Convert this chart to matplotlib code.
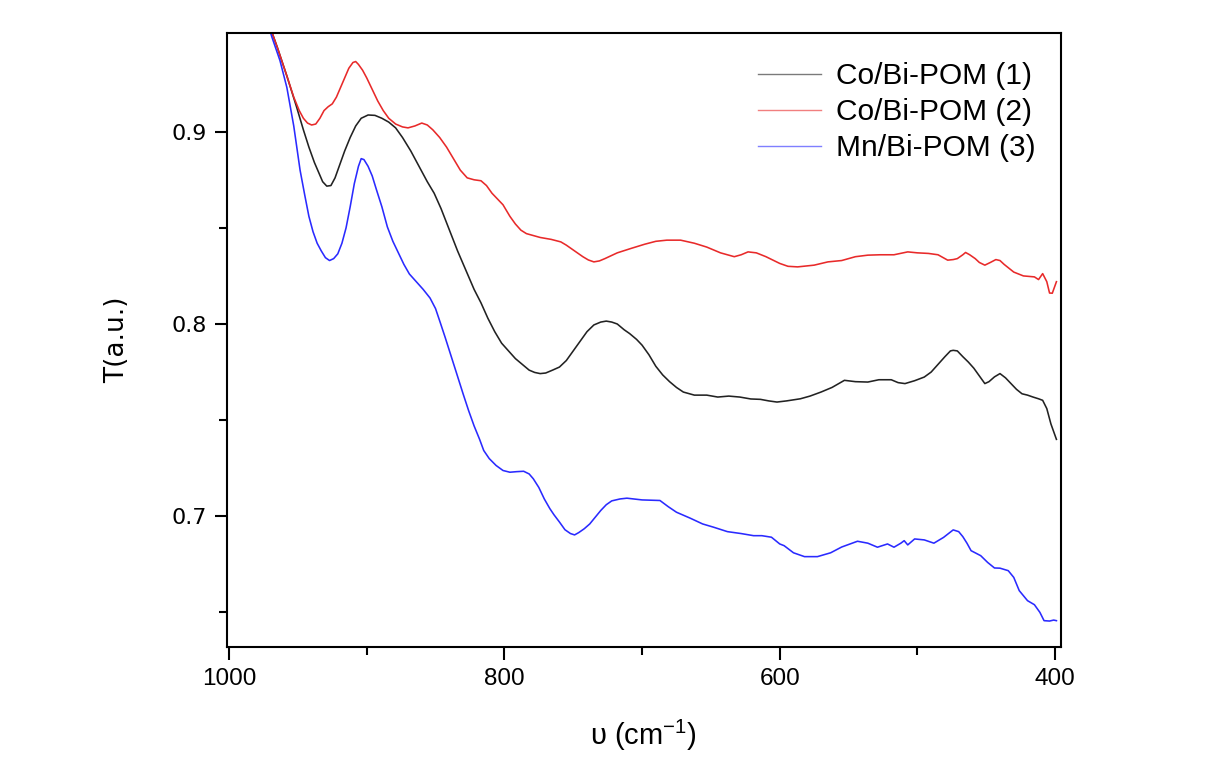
import matplotlib
matplotlib.use("Agg")
import matplotlib.pyplot as plt

plt.rcParams['mathtext.default'] = 'regular'

wn_black = [980, 972, 965, 958, 951, 946, 942, 938, 935, 932, 929, 926, 923, 920, 916, 912, 908, 904, 899, 894,
            889, 884, 879, 874, 868, 862, 856, 851, 846, 840, 834, 828, 822, 817, 812, 807, 802, 797, 792, 787,
            782, 778, 774, 770, 765, 760, 755, 750, 745, 740, 735, 730, 726, 722, 718, 713, 709, 704, 700, 695,
            690, 685, 680, 675, 670, 662, 653, 645, 637, 629, 621, 614, 608, 602, 595, 585, 578, 570, 562, 553,
            545, 536, 528, 519, 514, 509, 502, 495, 490, 485, 480, 476, 474, 471, 467, 463, 459, 455, 451, 448,
            444, 440, 436, 432, 428, 424, 420, 416, 412, 409, 406, 403, 399]
t_black = [0.975, 0.958, 0.944, 0.929, 0.913, 0.901, 0.892, 0.884, 0.879, 0.874, 0.8717, 0.872, 0.876, 0.882, 0.890, 0.897, 0.903, 0.907, 0.9087, 0.9085,
           0.907, 0.905, 0.902, 0.897, 0.890, 0.882, 0.874, 0.868, 0.860, 0.849, 0.838, 0.828, 0.818, 0.811, 0.803, 0.796, 0.790, 0.786, 0.782, 0.779,
           0.776, 0.7748, 0.7742, 0.7745, 0.776, 0.7776, 0.781, 0.786, 0.791, 0.796, 0.7995, 0.801, 0.8015, 0.801, 0.800, 0.797, 0.795, 0.792, 0.789, 0.784,
           0.778, 0.7735, 0.770, 0.767, 0.7646, 0.763, 0.763, 0.762, 0.7625, 0.762, 0.761, 0.7608, 0.760, 0.7594, 0.760, 0.7611, 0.7625, 0.7646, 0.767, 0.7707,
           0.770, 0.7698, 0.771, 0.771, 0.7695, 0.769, 0.7705, 0.7724, 0.775, 0.779, 0.783, 0.786, 0.7863, 0.786, 0.783, 0.7802, 0.777, 0.773, 0.769, 0.770,
           0.7725, 0.7742, 0.772, 0.769, 0.766, 0.7637, 0.763, 0.762, 0.7611, 0.7603, 0.756, 0.748, 0.740]

wn_red = [980, 972, 965, 958, 953, 949, 946, 943, 940, 937, 934, 931, 928, 925, 922, 919, 916, 913, 910, 908,
          906, 903, 900, 896, 892, 888, 884, 879, 874, 870, 865, 860, 856, 852, 847, 842, 837, 832, 827, 822,
          817, 813, 809, 805, 801, 796, 792, 788, 784, 779, 774, 766, 759, 755, 751, 747, 743, 739, 735, 731,
          727, 718, 708, 698, 690, 682, 672, 662, 653, 643, 633, 628, 623, 617, 610, 600, 594, 587, 575, 565,
          555, 545, 536, 527, 517, 507, 500, 492, 485, 478, 474, 471, 467, 465, 462, 458, 455, 451, 447, 443,
          440, 437, 430, 423, 415, 412, 409, 406, 404, 402, 399]
t_red = [0.975, 0.958, 0.944, 0.929, 0.918, 0.911, 0.907, 0.9045, 0.9035, 0.904, 0.907, 0.911, 0.913, 0.9145, 0.918, 0.923, 0.928, 0.933, 0.936, 0.9365,
         0.935, 0.932, 0.928, 0.922, 0.916, 0.911, 0.907, 0.904, 0.9025, 0.902, 0.903, 0.9045, 0.9035, 0.901, 0.897, 0.892, 0.886, 0.880, 0.876, 0.875,
         0.8745, 0.872, 0.868, 0.865, 0.862, 0.856, 0.852, 0.8488, 0.847, 0.846, 0.845, 0.844, 0.8427, 0.841, 0.839, 0.837, 0.835, 0.8333, 0.8323, 0.8328,
         0.834, 0.837, 0.8393, 0.8415, 0.843, 0.8436, 0.8436, 0.842, 0.840, 0.837, 0.835, 0.836, 0.8375, 0.837, 0.835, 0.8315, 0.830, 0.8297, 0.8306, 0.8323,
         0.833, 0.835, 0.8358, 0.836, 0.836, 0.8375, 0.837, 0.8367, 0.836, 0.8332, 0.8335, 0.834, 0.836, 0.8372, 0.836, 0.834, 0.832, 0.8306, 0.832, 0.8335,
         0.833, 0.831, 0.827, 0.825, 0.8245, 0.8231, 0.8262, 0.822, 0.8161, 0.816, 0.822]

wn_blue = [980, 975, 969, 963, 958, 953, 948.4, 945, 942, 939, 936, 933, 930, 927, 924, 921, 918, 915, 912, 909,
           906, 904, 902, 899, 896, 893, 889, 885, 881, 877, 873, 869, 864, 859, 854, 850, 846.7, 843, 839, 835,
           830, 826, 822, 818, 815, 811, 806, 801, 796, 791, 786, 782, 779, 775, 771, 767, 764, 760, 756, 752,
           749, 746, 742, 738, 734, 730, 726, 722, 716, 711, 700, 687, 681, 675, 665, 656, 648, 638, 628, 619,
           613, 606, 600, 596.8, 590, 582, 572.6, 563, 555, 543.5, 536, 529, 521.7, 517, 512, 509.6, 507, 502, 495, 488,
           481, 474, 470, 467, 464, 461, 454, 449, 444, 440, 434, 430, 426, 420, 415, 411, 408, 404, 401, 399]
t_blue = [0.978, 0.964, 0.9495, 0.937, 0.923, 0.903, 0.880, 0.867, 0.856, 0.848, 0.842, 0.838, 0.8345, 0.833, 0.834, 0.8365, 0.842, 0.850, 0.861, 0.873,
          0.882, 0.886, 0.8855, 0.882, 0.877, 0.870, 0.861, 0.8505, 0.843, 0.837, 0.831, 0.826, 0.822, 0.818, 0.8135, 0.808, 0.801, 0.793, 0.784, 0.775,
          0.7637, 0.755, 0.747, 0.740, 0.7342, 0.730, 0.7264, 0.7238, 0.7229, 0.7232, 0.7234, 0.722, 0.7195, 0.715, 0.709, 0.704, 0.7008, 0.697, 0.693, 0.691,
          0.6903, 0.6915, 0.6935, 0.696, 0.6995, 0.703, 0.706, 0.708, 0.709, 0.7094, 0.7085, 0.7082, 0.705, 0.7021, 0.699, 0.696, 0.6943, 0.692, 0.691, 0.6899,
          0.6899, 0.6891, 0.6856, 0.6847, 0.681, 0.679, 0.679, 0.681, 0.684, 0.687, 0.686, 0.6839, 0.6856, 0.6839, 0.686, 0.6873, 0.6851, 0.6882, 0.6877, 0.686,
          0.689, 0.6929, 0.692, 0.6894, 0.686, 0.6821, 0.6795, 0.676, 0.6731, 0.673, 0.6717, 0.6682, 0.6613, 0.6561, 0.654, 0.650, 0.6457, 0.6455, 0.646, 0.6457]

labels = ["Co/Bi-POM (1)", "Co/Bi-POM (2)", "Mn/Bi-POM (3)"]
colors = ["#222222", "#e82a2a", "#2a2aff"]
xticks = [1000, 800, 600, 400]
xminor = [900, 700, 500]
yticks = [0.7, 0.8, 0.9]
yminor = [0.65, 0.75, 0.85]

W, H = 1215, 783
fig = plt.figure(figsize=(W / 100, H / 100), dpi=100)
ax = fig.add_axes([226.7 / W, 1 - 647 / H, (1060.7 - 226.7) / W, (647 - 32.7) / H])

for wn, t, c, lab in zip([wn_black, wn_red, wn_blue], [t_black, t_red, t_blue], colors, labels):
    ax.plot(wn, t, color=c, lw=1.15, label=lab, solid_joinstyle='round')

ax.set_xlim(1001.7, 395.9)
ax.set_ylim(0.632, 0.9515)
ax.set_xticks(xticks)
ax.set_xticks(xminor, minor=True)
ax.set_yticks(yticks)
ax.set_yticks(yminor, minor=True)
ax.set_yticklabels([f"{v:.1f}" for v in yticks], fontfamily="DejaVu Sans", fontsize=16)
ax.set_xticklabels([str(v) for v in xticks], fontfamily="Liberation Sans", fontsize=17.5)

for s in ax.spines.values():
    s.set_linewidth(1.5)
ax.tick_params(which='major', direction='out', length=9, width=1.5)
ax.tick_params(which='minor', direction='out', length=6, width=1.5)
ax.tick_params(axis='x', which='major', pad=6)
ax.tick_params(axis='y', which='major', pad=5)

ax.set_xlabel("υ (cm$^{-1}$)", fontfamily="Liberation Sans", fontsize=21, labelpad=20)
ax.set_ylabel("T(a.u.)", fontfamily="DejaVu Sans", fontsize=19, labelpad=30)

leg = ax.legend(loc='upper left', bbox_to_anchor=(758 / W, 1 - 62 / H), bbox_transform=fig.transFigure,
                frameon=False, prop={'family': 'Liberation Sans', 'size': 21.5},
                handlelength=2.1, handletextpad=0.5, labelspacing=0.27, borderpad=0, borderaxespad=0)
for h in leg.get_lines():
    h.set_linewidth(1.0)
    h.set_alpha(0.6)

fig.savefig("out.png", dpi=100)
